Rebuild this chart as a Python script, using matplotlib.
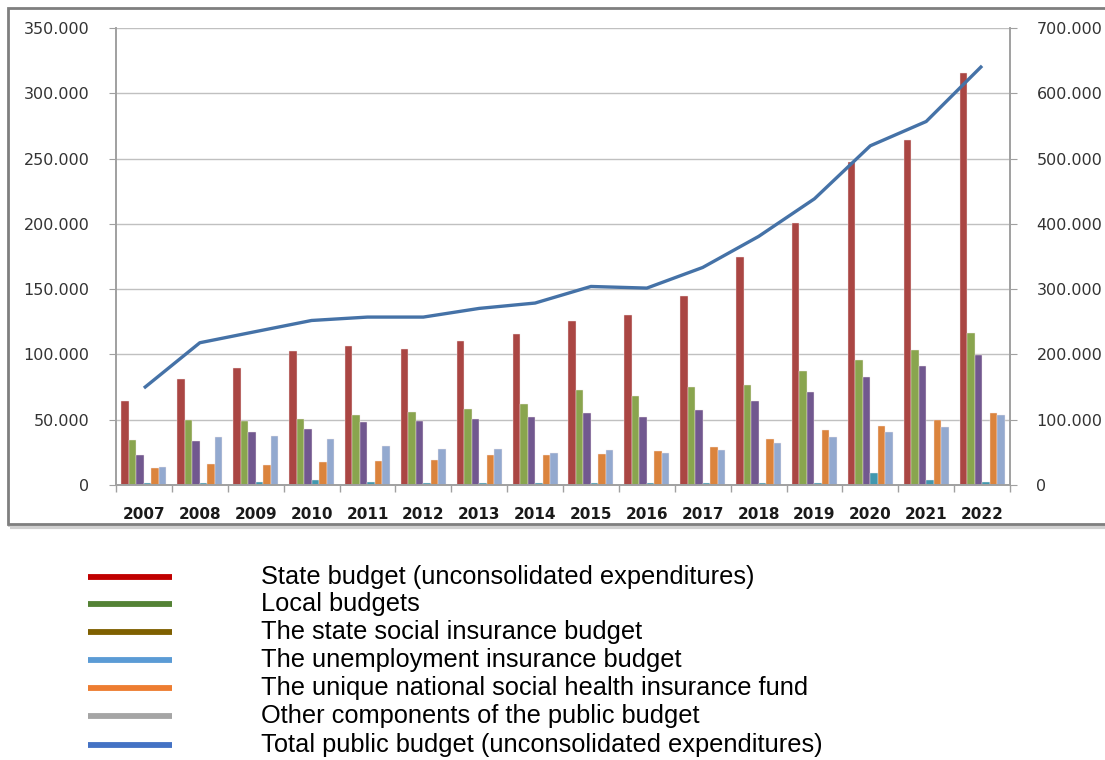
import matplotlib
matplotlib.use("Agg")
import matplotlib.pyplot as plt
import numpy as np
from matplotlib.patches import Rectangle
from matplotlib.lines import Line2D
from matplotlib.ticker import FuncFormatter, MultipleLocator

years = ['2007', '2008', '2009', '2010', '2011', '2012', '2013', '2014',
         '2015', '2016', '2017', '2018', '2019', '2020', '2021', '2022']

# values in thousands (left axis)
state_budget = [64.5, 81.2, 89.8, 102.4, 106.1, 104.4, 110.3, 115.6,
                125.4, 130.2, 144.4, 174.6, 200.6, 247.1, 264.3, 315.5]
local_budgets = [34.2, 50.0, 49.2, 50.8, 53.6, 55.9, 58.2, 61.7,
                 72.7, 68.1, 75.3, 76.5, 87.2, 95.7, 103.1, 116.6]
social_insurance = [23.0, 33.7, 40.3, 43.1, 48.2, 48.7, 50.3, 52.3,
                    55.1, 52.3, 57.7, 64.0, 71.4, 82.7, 91.1, 99.5]
unemployment = [1.5, 1.5, 2.5, 3.8, 2.3, 1.5, 1.5, 1.5,
                1.5, 1.3, 1.3, 1.3, 1.8, 8.9, 3.8, 2.3]
health_fund = [12.8, 16.3, 15.3, 17.6, 18.1, 19.4, 23.0, 23.0,
               23.7, 26.3, 29.3, 35.2, 42.1, 45.4, 50.0, 55.1]
other_components = [13.8, 36.7, 37.8, 35.2, 29.8, 27.3, 27.3, 24.2,
                    26.8, 24.2, 26.8, 32.4, 36.7, 40.3, 44.6, 53.3]
# right axis
total_public = [148.5, 217.9, 235.0, 252.0, 257.2, 257.2, 270.5, 278.7,
                304.1, 301.6, 333.2, 380.7, 438.4, 519.6, 556.8, 642.0]

legend_labels = ['State budget (unconsolidated expenditures)',
                 'Local budgets',
                 'The state social insurance budget',
                 'The unemployment insurance budget',
                 'The unique national social health insurance fund',
                 'Other components of the public budget',
                 'Total public budget (unconsolidated expenditures)']

bar_colors = ['#AA4643', '#89A54E', '#71588F', '#4198AF', '#DB843D', '#93A9CF']
legend_colors = ['#C00000', '#548235', '#7F6000', '#5B9BD5', '#ED7D31', '#A5A5A5', '#4472C4']


def fmt(v, pos):
    return f'{int(round(v * 1000)):,}'.replace(',', '.')


fig = plt.figure(figsize=(11.05, 7.6), dpi=100)

# chart frame (drawn behind the axes), with a soft shadow
fig.patches.append(Rectangle((10 / 1105, 1 - 527 / 760), 1.2, 516 / 760,
                             transform=fig.transFigure, facecolor='none',
                             edgecolor='#d0d0d0', linewidth=3, zorder=-6))
fig.patches.append(Rectangle((8 / 1105, 1 - 524 / 760), 1.2, 516 / 760,
                             transform=fig.transFigure, facecolor='white',
                             edgecolor='#7f7f7f', linewidth=2, zorder=-5))

ax = fig.add_axes([116 / 1105, 1 - 485 / 760, 894 / 1105, 457 / 760])
ax2 = ax.twinx()
ax.patch.set_alpha(0)
ax2.patch.set_alpha(0)

x = np.arange(len(years))
w = 0.134
series = [state_budget, local_budgets, social_insurance, unemployment, health_fund, other_components]
for i, vals in enumerate(series):
    ax.bar(x + (i - 2.5) * w, vals, w, color=bar_colors[i],
           edgecolor='#f4e8e8', linewidth=0.3, zorder=2)

ax2.plot(x, total_public, color='#4572A7', linewidth=2.4, solid_capstyle='butt')

ax.set_xlim(-0.5, len(years) - 0.5)
ax.set_ylim(0, 350)
ax2.set_ylim(0, 700)
ax.yaxis.set_major_locator(MultipleLocator(50))
ax2.yaxis.set_major_locator(MultipleLocator(100))
ax.yaxis.set_major_formatter(FuncFormatter(fmt))
ax2.yaxis.set_major_formatter(FuncFormatter(fmt))

ax.set_axisbelow(True)
ax.grid(axis='y', color='#c0c0c0', linewidth=1)

ax.set_xticks(x)
ax.set_xticklabels(years, fontsize=11, fontweight='bold', color='#1a1a1a')
ax.set_xticks(np.arange(len(years) + 1) - 0.5, minor=True)
ax.tick_params(axis='x', which='major', length=0, pad=16)
ax.tick_params(axis='x', which='minor', length=5, color='#a0a0a0', width=1)
ax.tick_params(axis='y', length=5, color='#a0a0a0', labelsize=11.5,
               labelcolor='#333333', pad=14)
ax2.tick_params(axis='y', length=5, color='#a0a0a0', labelsize=11.5,
                labelcolor='#333333', pad=14)

for a in (ax, ax2):
    a.spines['top'].set_visible(False)
    for s in ['left', 'right', 'bottom']:
        a.spines[s].set_color('#a0a0a0')
        a.spines[s].set_linewidth(1.2)

# legend below the chart
row_y = [577, 604, 632, 660, 688, 716, 745]
for i, lab in enumerate(legend_labels):
    yy = 1 - row_y[i] / 760
    fig.add_artist(Line2D([88 / 1105, 172 / 1105], [yy, yy], transform=fig.transFigure,
                          color=legend_colors[i], linewidth=4.2, solid_capstyle='butt'))
    fig.text(261 / 1105, yy, lab, fontsize=18.3, family='Liberation Sans',
             va='center', ha='left', color='black')

fig.savefig('out.png', dpi=100)
